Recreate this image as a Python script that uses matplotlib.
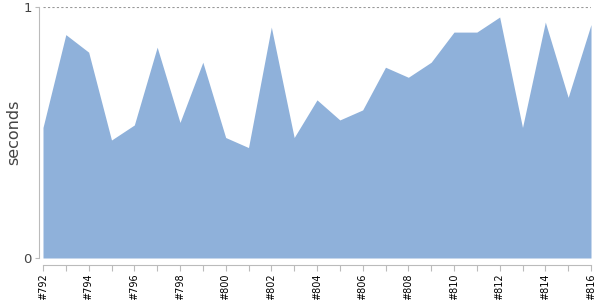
import numpy as np
import matplotlib.pyplot as plt

# build numbers and durations
builds = list(range(792, 817))
seconds = [0.52, 0.89, 0.82, 0.47, 0.53, 0.84, 0.54, 0.78, 0.48, 0.44,
           0.92, 0.48, 0.63, 0.55, 0.59, 0.76, 0.72, 0.78, 0.90, 0.90,
           0.96, 0.52, 0.94, 0.64, 0.93]
tick_labels = ["#%d" % b for b in builds]

fig = plt.figure(figsize=(6, 3), dpi=100)
ax = fig.add_axes([43 / 600, 1 - 258 / 300, 548 / 600, 251 / 300])

x = np.arange(len(builds))
ax.fill_between(x, seconds, 0, color="#8fb1da", linewidth=0)
ax.axhline(1, color="#999999", linestyle=(0, (2, 2)), linewidth=0.8)

ax.set_xlim(0, len(builds) - 1)
ax.set_ylim(0, 1)

# spines
for s in ["top", "right"]:
    ax.spines[s].set_visible(False)
ax.spines["left"].set_position(("outward", 3))
ax.spines["bottom"].set_position(("outward", 5))
ax.spines["left"].set_color("#bbbbbb")
ax.spines["bottom"].set_color("#bbbbbb")

ax.set_xticks(x)
ax.set_xticklabels([l if i % 2 == 0 else "" for i, l in enumerate(tick_labels)],
                   rotation=90, fontsize=7)
ax.tick_params(axis="x", colors="#bbbbbb", labelcolor="black", length=4, pad=2)

ax.set_yticks([0, 1])
ax.set_yticklabels(["0", "1"], fontsize=9.5)
ax.tick_params(axis="y", colors="#bbbbbb", labelcolor="#444444", length=3, pad=2)

ax.set_ylabel("seconds", fontsize=11.5, color="#444444")
ax.yaxis.set_label_coords(-0.04, 0.5)

fig.savefig("out.png", dpi=100)
